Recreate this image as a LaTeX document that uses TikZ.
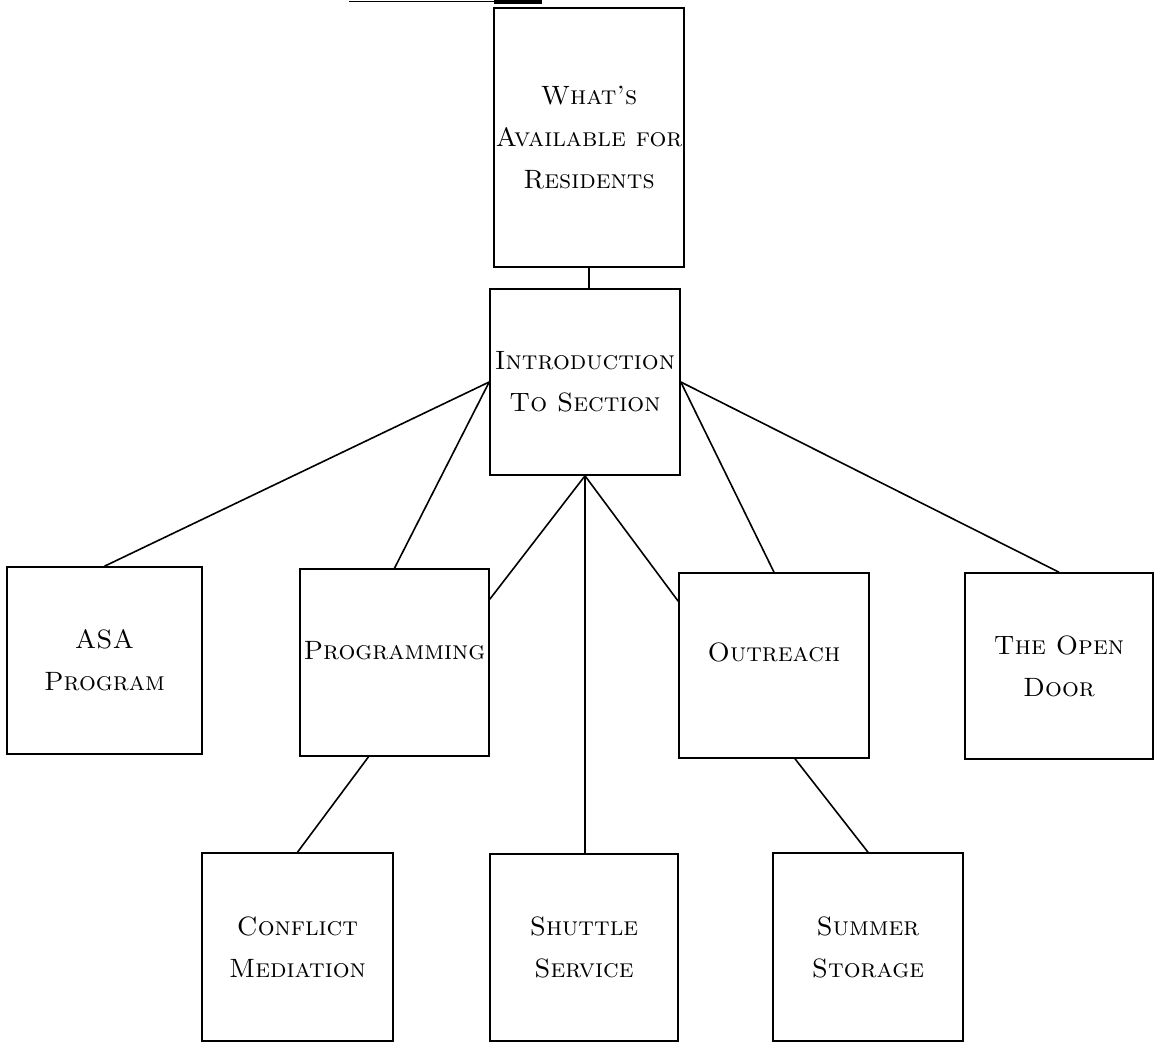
\documentclass[tikz,border=0pt]{standalone}
\usetikzlibrary{calc}
\begin{document}
\begin{tikzpicture}[x=1pt,y=-1pt,
  box/.style={draw, line width=1.6pt, rectangle, inner sep=0pt, align=center,
    font=\fontsize{26.5}{42}\selectfont\scshape},
  conn/.style={line width=1.6pt},
  lbl/.style={font=\fontsize{26.5}{42}\selectfont\scshape, align=center}]
\useasboundingbox (0,0) rectangle (1157,1046);
% scan artifact at the top edge
\draw[line width=1.5pt] (349,1.5) -- (494,1.5);
\fill (494,0) rectangle (542,4.5);
% boxes
\node[box, minimum width=190pt, minimum height=259pt] (top) at (589,137.5) {What's\\Available for\\Residents};
\node[box, minimum width=190pt, minimum height=186pt] (intro) at (585,382) {Introduction\\To Section};
\node[box, minimum width=195pt, minimum height=187pt] (asa) at (104.5,660.5) {ASA\\Program};
\node[box, minimum width=189pt, minimum height=187pt,
  label={[lbl, yshift=12pt]center:Programming}] (prog) at (394.5,662.5) {};
\node[box, minimum width=190pt, minimum height=185pt,
  label={[lbl, yshift=13pt]center:Outreach}] (out) at (774,665.5) {};
\node[box, minimum width=188pt, minimum height=186pt] (door) at (1059,666) {The Open\\Door};
\node[box, minimum width=191pt, minimum height=188pt] (confl) at (297.5,947) {Conflict\\Mediation};
\node[box, minimum width=188pt, minimum height=187pt] (shut) at (584,947.5) {Shuttle\\Service};
\node[box, minimum width=190pt, minimum height=188pt] (summ) at (868,947) {Summer\\Storage};
% connectors
\draw[conn] (top.south) -- (top.south |- intro.north);
\draw[conn] (intro.west) -- (asa.north);
\draw[conn] (intro.west) -- (prog.north);
\draw[conn] (intro.south) -- ($(prog.north east)+(0,31)$);
\draw[conn] (intro.south) -- (intro.south |- shut.north);
\draw[conn] (intro.south) -- ($(out.north west)+(0,29)$);
\draw[conn] (intro.east) -- (out.north);
\draw[conn] (intro.east) -- (door.north);
\draw[conn] ($(prog.south)+(-26,0)$) -- (confl.north);
\draw[conn] ($(out.south)+(21,0)$) -- (summ.north);
\end{tikzpicture}
\end{document}
